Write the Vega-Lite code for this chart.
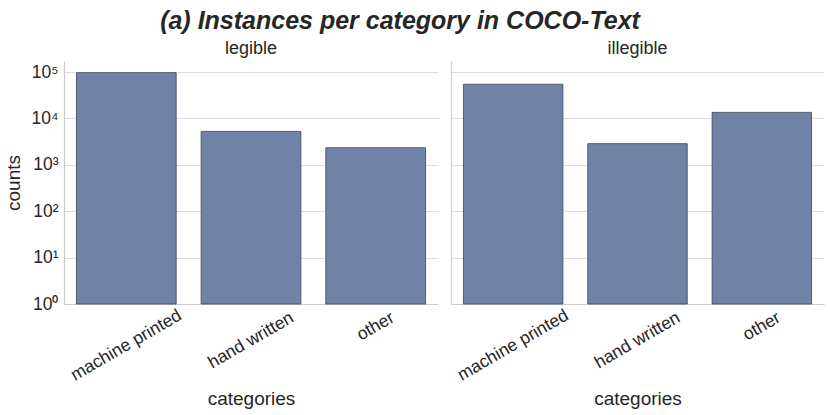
{
  "$schema": "https://vega.github.io/schema/vega-lite/v6.json",
  "description": "Instances per category in COCO-Text, legible vs illegible",
  "background": "white",
  "padding": {"left": 4, "top": 9, "right": 5, "bottom": 5},
  "title": {
    "text": "(a) Instances per category in COCO-Text",
    "fontSize": 25,
    "fontStyle": "italic",
    "fontWeight": "bold",
    "font": "Liberation Sans",
    "color": "#262626",
    "anchor": "middle",
    "dx": -14,
    "offset": 6
  },
  "data": {
    "values": [
      {"legibility": "legible", "category": "machine printed", "counts": 97000},
      {"legibility": "legible", "category": "hand written", "counts": 5250},
      {"legibility": "legible", "category": "other", "counts": 2340},
      {"legibility": "illegible", "category": "machine printed", "counts": 54600},
      {"legibility": "illegible", "category": "hand written", "counts": 2860},
      {"legibility": "illegible", "category": "other", "counts": 13500}
    ]
  },
  "spacing": 13,
  "hconcat": [
    {
      "title": {"text": "legible", "fontSize": 18, "fontWeight": "normal", "anchor": "middle", "offset": 3},
      "transform": [{"filter": "datum.legibility === 'legible'"}],
      "width": 374,
      "height": 243,
      "mark": {"type": "bar", "fill": "#7083a6", "stroke": "#3c4257", "strokeWidth": 0.8},
      "encoding": {
        "x": {
          "field": "category",
          "type": "nominal",
          "sort": ["machine printed", "hand written", "other"],
          "scale": {"paddingInner": 0.2, "paddingOuter": 0.1},
          "axis": {
            "title": "categories",
            "labelAngle": -30,
            "labelAlign": "center",
            "labelBaseline": "middle",
            "labelPadding": {"condition": [
              {"test": "datum.value === 'machine printed'", "value": 41},
              {"test": "datum.value === 'hand written'", "value": 36}
            ], "value": 22}
          }
        },
        "y": {
          "field": "counts",
          "type": "quantitative",
          "scale": {"type": "log", "domain": [1, 173000], "nice": false},
          "axis": {
            "title": "counts",
            "values": [1, 10, 100, 1000, 10000, 100000],
            "labelExpr": "'10' + ['⁰','¹','²','³','⁴','⁵'][round(log(datum.value) / LN10)]"
          }
        },
        "y2": {"datum": 1}
      }
    },
    {
      "title": {"text": "illegible", "fontSize": 18, "fontWeight": "normal", "anchor": "middle", "offset": 3},
      "transform": [{"filter": "datum.legibility === 'illegible'"}],
      "width": 373,
      "height": 243,
      "mark": {"type": "bar", "fill": "#7083a6", "stroke": "#3c4257", "strokeWidth": 0.8},
      "encoding": {
        "x": {
          "field": "category",
          "type": "nominal",
          "sort": ["machine printed", "hand written", "other"],
          "scale": {"paddingInner": 0.2, "paddingOuter": 0.1},
          "axis": {
            "title": "categories",
            "labelAngle": -30,
            "labelAlign": "center",
            "labelBaseline": "middle",
            "labelPadding": {"condition": [
              {"test": "datum.value === 'machine printed'", "value": 41},
              {"test": "datum.value === 'hand written'", "value": 36}
            ], "value": 22}
          }
        },
        "y": {
          "field": "counts",
          "type": "quantitative",
          "scale": {"type": "log", "domain": [1, 173000], "nice": false},
          "axis": {
            "title": null,
            "labels": false,
            "values": [1, 10, 100, 1000, 10000, 100000]
          }
        },
        "y2": {"datum": 1}
      }
    }
  ],
  "config": {
    "font": "Liberation Sans",
    "view": {"stroke": null},
    "title": {"color": "#262626", "font": "Liberation Sans"},
    "axis": {
      "ticks": false,
      "domainColor": "#cccccc",
      "domainWidth": 1.2,
      "gridColor": "#dddddd",
      "gridWidth": 1,
      "labelColor": "#262626",
      "labelFontSize": 17.5,
      "labelFont": "Liberation Sans",
      "titleColor": "#262626",
      "titleFontSize": 19,
      "titleFontWeight": "normal",
      "titleFont": "Liberation Sans"
    },
    "axisX": {"grid": false, "titlePadding": 6},
    "axisY": {"grid": true, "labelPadding": 6, "titlePadding": 8}
  }
}
